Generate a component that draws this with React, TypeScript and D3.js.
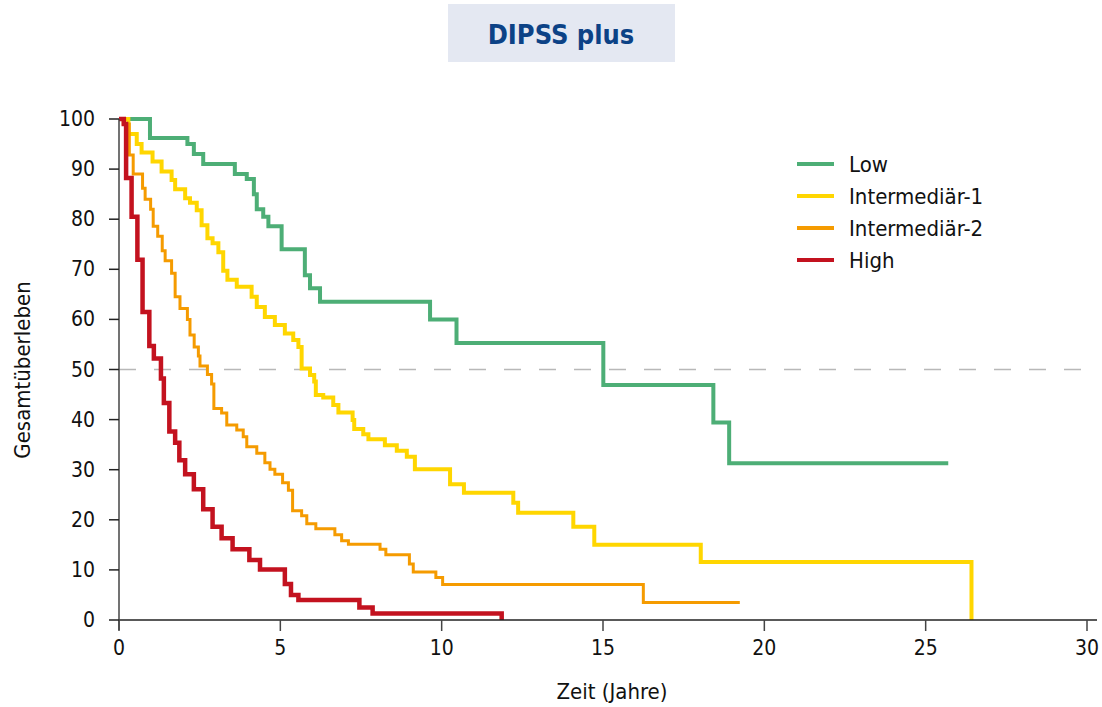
import React from 'react';
import * as d3 from 'd3';

// Kaplan-Meier steps (time in years, survival in %)
const lowTimes = [0, 0.96, 2.12, 2.32, 2.61, 3.59, 3.96, 4.18, 4.27, 4.47, 4.63, 5.04, 5.76, 5.92, 6.23, 9.64, 10.46, 15.01, 18.42, 18.91, 25.7];
const lowSurv = [100, 96.2, 95, 93, 91, 89, 88, 85, 82, 80.5, 78.6, 74, 68.8, 66.2, 63.5, 60, 55.3, 46.9, 39.4, 31.3, 31.3];

const int1Times = [0, 0.29, 0.55, 0.7, 1.04, 1.32, 1.63, 1.74, 2.05, 2.2, 2.41, 2.56, 2.74, 2.9, 3.08, 3.23, 3.36, 3.65, 4.11, 4.27, 4.52, 4.83, 5.14, 5.4, 5.56, 5.66, 5.92, 6.05, 6.1, 6.33, 6.64, 6.8, 7.24, 7.29, 7.57, 7.73, 8.24, 8.61, 8.92, 9.17, 10.26, 10.69, 12.22, 12.37, 14.08, 14.73, 18.03, 26.42];
const int1Surv = [100, 97, 95, 93.3, 91.5, 89.5, 87.8, 86, 84.2, 83.3, 81.8, 78.8, 76.2, 75.2, 73.4, 69.7, 67.9, 66.5, 64.5, 62.5, 60.5, 58.9, 57.2, 55.9, 54.5, 50.2, 48.9, 47.6, 44.9, 44.4, 42.9, 41.4, 39.9, 38.1, 37.1, 36.1, 34.9, 33.8, 32.6, 30.1, 27.1, 25.4, 23.4, 21.4, 18.6, 15, 11.6, 0];

const int2Times = [0, 0.13, 0.32, 0.44, 0.73, 0.81, 0.98, 1.06, 1.2, 1.34, 1.43, 1.63, 1.74, 1.89, 2.12, 2.2, 2.33, 2.46, 2.51, 2.74, 2.87, 2.94, 3.18, 3.34, 3.65, 3.85, 3.96, 4.27, 4.52, 4.68, 4.83, 5.07, 5.25, 5.38, 5.66, 5.82, 6.1, 6.69, 6.9, 7.11, 8.09, 8.27, 9.0, 9.12, 9.82, 10.03, 16.25, 19.24];
const int2Surv = [100, 99, 92.8, 89, 86.2, 84, 82, 78.6, 76.6, 73.7, 71.7, 69.2, 64.5, 62.2, 60, 56.9, 54.5, 52.7, 50.7, 49, 47.1, 42.2, 41.3, 38.9, 37.9, 36.6, 34.6, 33.3, 31.4, 30.1, 29.1, 27.4, 25.9, 21.8, 20.8, 19.2, 18.2, 17, 15.8, 15.1, 14.1, 13, 11.2, 9.6, 8.5, 7.1, 3.5, 3.5];

const highTimes = [0, 0.15, 0.22, 0.39, 0.57, 0.73, 0.94, 1.08, 1.3, 1.39, 1.56, 1.74, 1.87, 2.05, 2.32, 2.61, 2.9, 3.18, 3.52, 4.04, 4.37, 5.14, 5.33, 5.56, 7.45, 7.86, 11.86];
const highSurv = [100, 99, 88.2, 80.5, 71.9, 61.5, 54.7, 52.2, 48.2, 43.3, 37.6, 35.4, 31.9, 29.1, 26.1, 22.1, 18.6, 16.3, 14.1, 12, 10.1, 7.2, 5, 4, 2.5, 1.3, 0];

const groupNames = ['Low', 'Intermediär-1', 'Intermediär-2', 'High'];
const groupColors = ['#4dae76', '#ffd600', '#f59b00', '#c3121f'];
const groupWidths = [4, 4, 3, 4.5];

const xTicks = [0, 5, 10, 15, 20, 25, 30];
const yTicks = [0, 10, 20, 30, 40, 50, 60, 70, 80, 90, 100];

const font = "'Liberation Sans Narrow', 'DejaVu Sans Condensed', 'Roboto', sans-serif";

export default function App() {
  const x = d3.scaleLinear().domain([0, 30]).range([119, 1087]);
  const y = d3.scaleLinear().domain([0, 100]).range([620, 119]);

  const line = d3.line<[number, number]>()
    .x(d => x(d[0]))
    .y(d => y(d[1]))
    .curve(d3.curveStepAfter);

  const series = [
    d3.zip(lowTimes, lowSurv),
    d3.zip(int1Times, int1Surv),
    d3.zip(int2Times, int2Surv),
    d3.zip(highTimes, highSurv),
  ] as [number, number][][];

  // draw order: high on top
  const order = [0, 1, 2, 3];

  return (
    <svg width={1102} height={707} style={{ position: 'absolute', left: 0, top: 0, fontFamily: font, fontStretch: 'condensed' }}>
      <rect x={448} y={4} width={227} height={58} fill="#e4e8f2" />
      <text x={561} y={44} textAnchor="middle" fontSize={27} fontWeight="bold" fill="#0c4286">DIPSS plus</text>

      {/* 50% reference */}
      <line x1={x(0)} x2={x(30)} y1={y(50)} y2={y(50)} stroke="#b8b8b8" strokeWidth={1.5} strokeDasharray="17 18" />

      {order.map(i => (
        <path key={i} d={line(series[i]) || ''} fill="none" stroke={groupColors[i]} strokeWidth={groupWidths[i]} />
      ))}

      {/* axes */}
      <line x1={x(0)} x2={1097} y1={y(0)} y2={y(0)} stroke="#222" strokeWidth={1.5} />
      <line x1={x(0)} x2={x(0)} y1={y(0) + 10} y2={y(100)} stroke="#444" strokeWidth={1.5} />
      {xTicks.map(t => (
        <g key={t}>
          <line x1={x(t)} x2={x(t)} y1={y(0)} y2={y(0) + 11} stroke="#444" strokeWidth={1.5} />
          <text x={x(t)} y={655} textAnchor="middle" fontSize={21} fill="#111">{t}</text>
        </g>
      ))}
      {yTicks.map(t => (
        <g key={t}>
          <line x1={x(0) - 10} x2={x(0)} y1={y(t)} y2={y(t)} stroke="#222" strokeWidth={1.5} />
          <text x={95} y={y(t) + 7} textAnchor="end" fontSize={21} fill="#111">{t}</text>
        </g>
      ))}
      <text x={612} y={699} textAnchor="middle" fontSize={22} fill="#111">Zeit (Jahre)</text>
      <text transform={`translate(30,370) rotate(-90)`} textAnchor="middle" fontSize={22} fill="#111">Gesamtüberleben</text>

      {/* legend */}
      {groupNames.map((n, i) => (
        <g key={n} transform={`translate(797,${164 + i * 32})`}>
          <line x1={0} x2={37} y1={0} y2={0} stroke={groupColors[i]} strokeWidth={4} />
          <text x={52} y={8} fontSize={22} fill="#111">{n}</text>
        </g>
      ))}
    </svg>
  );
}
